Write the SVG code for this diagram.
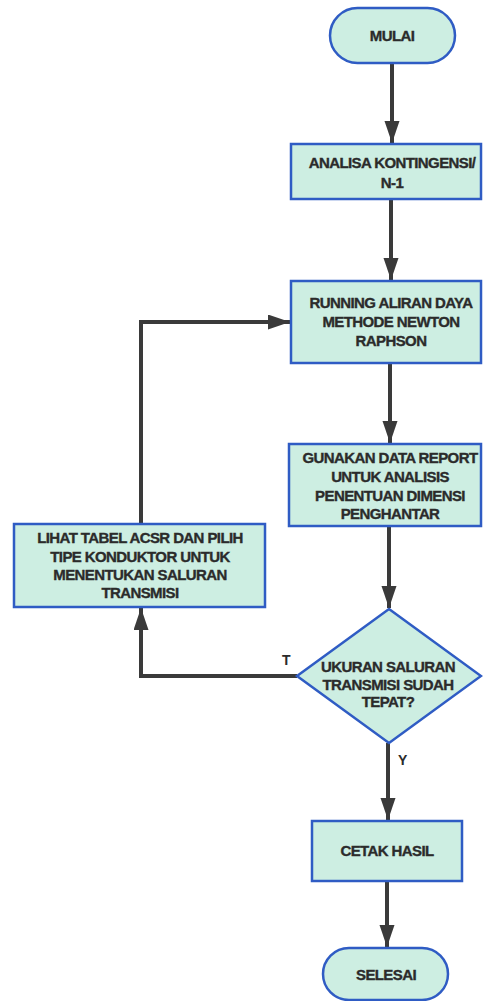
<svg xmlns="http://www.w3.org/2000/svg" width="483" height="1001" viewBox="0 0 483 1001">
<style>
.n{fill:#cdeee2;stroke:#2f5cc4;stroke-width:2.5}
.t{font-family:"Liberation Sans",Arial,sans-serif;font-weight:bold;font-size:15px;fill:#2b2b2b;stroke:#2b2b2b;stroke-width:0.35;text-anchor:middle;letter-spacing:-0.6px}
.c{fill:none;stroke:#3a3a3a;stroke-width:4}
.l{font-family:"Liberation Sans",Arial,sans-serif;font-weight:bold;font-size:14px;fill:#2b2b2b}
</style>
<defs>
<marker id="ah" markerUnits="userSpaceOnUse" markerWidth="24" markerHeight="16" refX="22" refY="7.5" orient="auto">
<path d="M0,0 L22,7.5 L0,15 z" fill="#3a3a3a"/>
</marker>
</defs>
<rect width="483" height="1001" fill="#ffffff"/>
<g id="connectors">
<path class="c" d="M392,63 V143" marker-end="url(#ah)"/>
<path class="c" d="M391,199 V280" marker-end="url(#ah)"/>
<path class="c" d="M390,363 V443" marker-end="url(#ah)"/>
<path class="c" d="M389,526 V608" marker-end="url(#ah)"/>
<path class="c" d="M388,743 V820" marker-end="url(#ah)"/>
<path class="c" d="M387,881 V947" marker-end="url(#ah)"/>
<path class="c" d="M297,676 H141 V608" marker-end="url(#ah)"/>
<path class="c" d="M141,524 V322 H290" marker-end="url(#ah)"/>
<text class="l" x="282" y="665">T</text>
<text class="l" x="398" y="765">Y</text>
</g>
<g id="mulai">
<rect class="n" x="330" y="8" width="125" height="55" rx="27.5"/>
<text class="t" x="392" y="41">MULAI</text>
</g>
<g id="analisa">
<rect class="n" x="291" y="144" width="190" height="55"/>
<text class="t" x="392" y="168">ANALISA KONTINGENSI/</text>
<text class="t" x="392" y="188">N-1</text>
</g>
<g id="running">
<rect class="n" x="291" y="281" width="190" height="82"/>
<text class="t" x="391" y="308">RUNNING ALIRAN DAYA</text>
<text class="t" x="391" y="327">METHODE NEWTON</text>
<text class="t" x="391" y="346">RAPHSON</text>
</g>
<g id="gunakan">
<rect class="n" x="289" y="444" width="192" height="82"/>
<text class="t" x="390" y="463">GUNAKAN DATA REPORT</text>
<text class="t" x="390" y="482">UNTUK ANALISIS</text>
<text class="t" x="390" y="501">PENENTUAN DIMENSI</text>
<text class="t" x="390" y="519">PENGHANTAR</text>
</g>
<g id="lihat">
<rect class="n" x="14" y="524" width="251" height="83"/>
<text class="t" x="140" y="543">LIHAT TABEL ACSR DAN PILIH</text>
<text class="t" x="140" y="562">TIPE KONDUKTOR UNTUK</text>
<text class="t" x="140" y="580">MENENTUKAN SALURAN</text>
<text class="t" x="140" y="598">TRANSMISI</text>
</g>
<g id="keputusan">
<polygon class="n" points="389,609 481,676 389,743 297,676"/>
<text class="t" x="388" y="672">UKURAN SALURAN</text>
<text class="t" x="388" y="690">TRANSMISI SUDAH</text>
<text class="t" x="388" y="707">TEPAT?</text>
</g>
<g id="cetak">
<rect class="n" x="312" y="821" width="150" height="60"/>
<text class="t" x="387" y="856">CETAK HASIL</text>
</g>
<g id="selesai">
<rect class="n" x="323" y="948" width="125" height="52" rx="26"/>
<text class="t" x="386" y="980">SELESAI</text>
</g>
</svg>
